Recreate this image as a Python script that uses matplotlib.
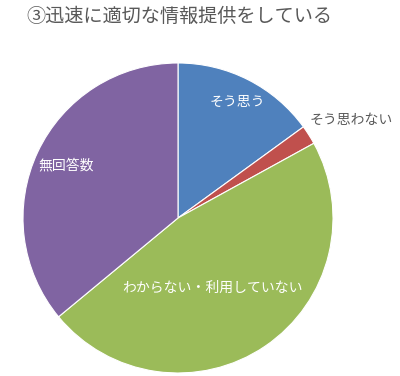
import matplotlib
matplotlib.use("Agg")
import matplotlib.pyplot as plt

title = "③迅速に適切な情報提供をしている"
categories = ["そう思う", "そう思わない", "わからない・利用していない", "無回答数"]
values = [15, 2, 47, 36]
colors = ["#4F81BD", "#C0504D", "#9BBB59", "#8064A2"]
label_pos = [(0.38, 0.75), (1.116, 0.632), (0.22, -0.45), (-0.72, 0.34)]
label_colors = ["white", "#595959", "white", "white"]

plt.rcParams['font.family'] = ['Noto Sans CJK JP', 'DejaVu Sans']

fig = plt.figure(figsize=(4.0, 3.76), dpi=100)
ax = fig.add_axes([0.0575, 0.008, 0.775, 0.8245])
ax.pie(values, colors=colors, startangle=90, counterclock=False, radius=1.0,
       wedgeprops=dict(edgecolor="white", linewidth=0.8))
for cat, (x, y), c in zip(categories, label_pos, label_colors):
    ax.text(x, y, cat, ha="center", va="center", fontsize=10, color=c)
ax.set_xlim(-1, 1)
ax.set_ylim(-1, 1)
ax.set_aspect("equal")
ax.axis("off")
fig.text(0.065, 0.955, title, ha="left", va="center", fontsize=13.8, color="#595959")
fig.savefig("out.png", dpi=100)
